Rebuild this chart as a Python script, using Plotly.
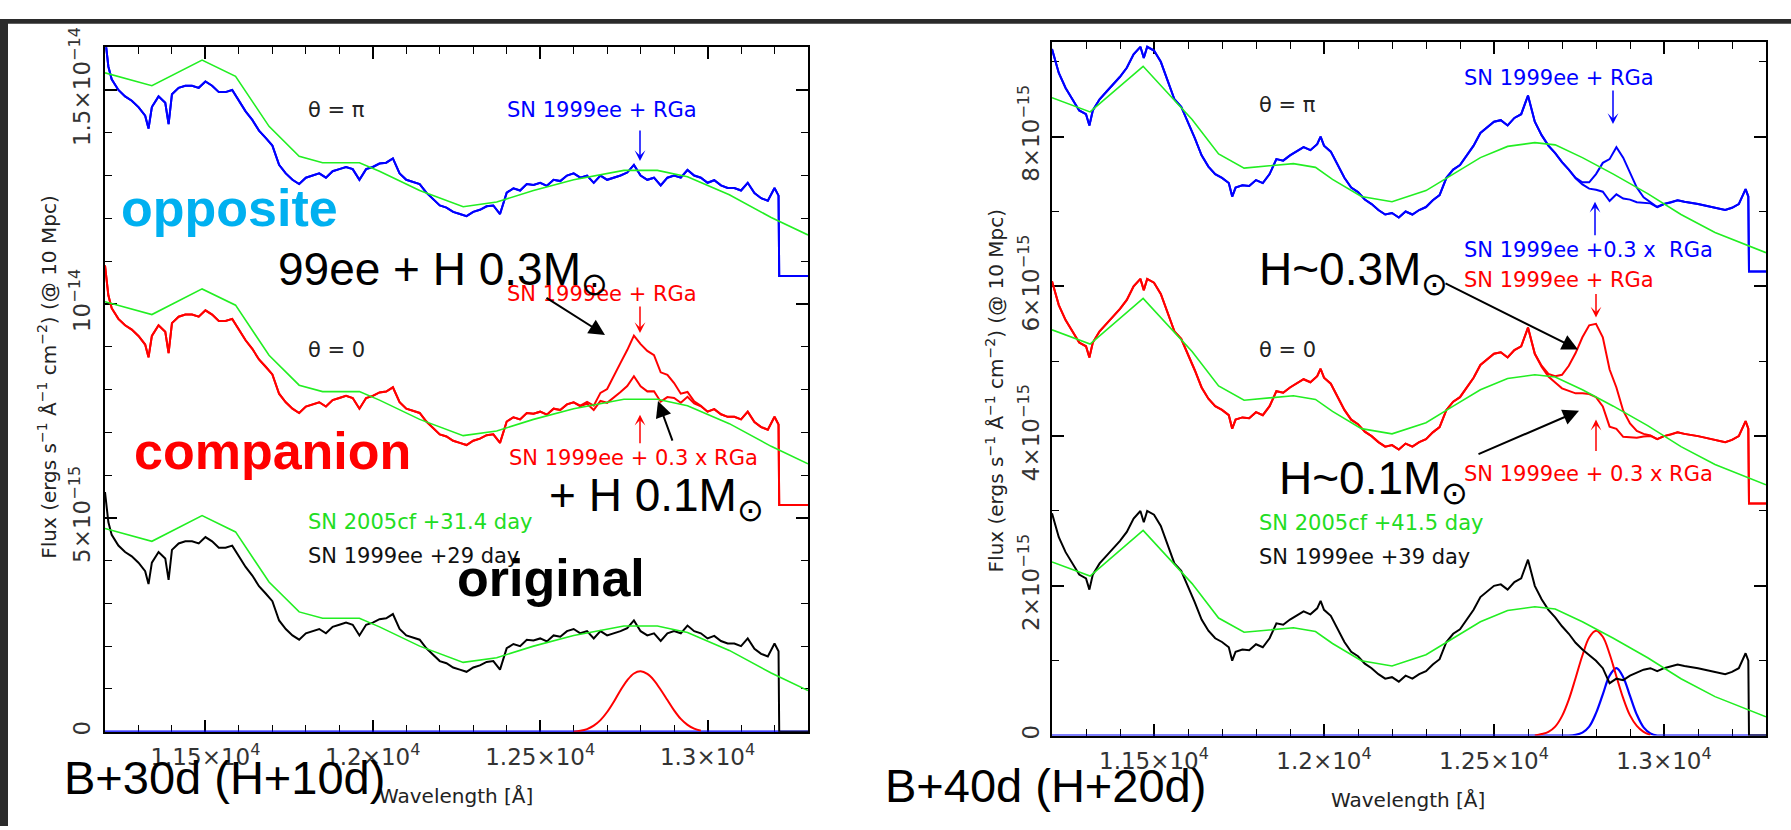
import plotly.graph_objects as go

W, H = 1791, 830

# ---------------- DATA (flux in units of 1e-15 erg s^-1 A^-1 cm^-2, wavelength in A) ----------------
# Left panel : B+30d (H+10d)  -- SN 1999ee +29 day
wl_L = [11200, 11210, 11220, 11240, 11260, 11280, 11300, 11320, 11330, 11340,
        11360, 11380, 11390, 11400, 11420, 11440, 11460, 11480, 11500, 11520,
        11540, 11560, 11580, 11600, 11620, 11640, 11660, 11680, 11700, 11720,
        11740, 11760, 11780, 11800, 11820, 11840, 11860, 11880, 11900, 11920,
        11940, 11960, 11980, 12000, 12020, 12040, 12060, 12080, 12100, 12120,
        12140, 12160, 12180, 12200, 12220, 12240, 12260, 12280, 12300, 12320,
        12340, 12360, 12380, 12400, 12420, 12440, 12460, 12480, 12500, 12520,
        12540, 12560, 12580, 12600, 12620, 12640, 12660, 12680, 12700, 12720,
        12740, 12760, 12780, 12800, 12820, 12840, 12860, 12880, 12900, 12920,
        12940, 12960, 12980, 13000, 13020, 13040, 13060, 13080, 13100, 13120,
        13140, 13160, 13180, 13200, 13212, 13214, 13300]
sn1999ee_L = [5.6, 4.9, 4.6, 4.35, 4.2, 4.1, 3.95, 3.75, 3.45, 3.95,
              4.2, 4.05, 3.55, 4.25, 4.4, 4.45, 4.45, 4.4, 4.55, 4.45,
              4.3, 4.3, 4.35, 4.1, 3.85, 3.65, 3.4, 3.23, 3.05, 2.6,
              2.4, 2.25, 2.15, 2.3, 2.35, 2.4, 2.3, 2.45, 2.5, 2.55,
              2.5, 2.25, 2.5, 2.55, 2.63, 2.65, 2.75, 2.4, 2.25, 2.2,
              2.15, 1.95, 1.8, 1.65, 1.6, 1.5, 1.45, 1.4, 1.5, 1.55,
              1.63, 1.65, 1.45, 1.95, 2.05, 2.0, 2.15, 2.13, 2.18, 2.11,
              2.25, 2.22, 2.35, 2.4, 2.3, 2.35, 2.18, 2.35, 2.25, 2.3,
              2.35, 2.42, 2.6, 2.35, 2.25, 2.3, 2.12, 2.3, 2.35, 2.3,
              2.48, 2.35, 2.3, 2.18, 2.24, 2.12, 2.06, 2.06, 2.0, 2.18,
              1.94, 1.82, 1.76, 2.06, 1.88, 0.0, 0.0]
rga_wl_L = [12600, 12620, 12640, 12660, 12680, 12700, 12720, 12740, 12760, 12780,
            12800, 12820, 12840, 12860, 12880, 12900, 12920, 12940, 12960, 12980]
rga_red_L = [0.0, 0.02, 0.06, 0.14, 0.27, 0.46, 0.7, 0.97, 1.2, 1.36,
             1.41, 1.35, 1.2, 0.98, 0.74, 0.5, 0.3, 0.16, 0.07, 0.02]
rga_blue_wl_L = []
rga_blue_L = []
tmpl_wl_L = [11200, 11340, 11490, 11590, 11690, 11780, 11850, 11960, 12020, 12140,
             12270, 12370, 12480, 12600, 12750, 12850, 12940, 13065, 13190, 13300]
sn2005cf_L = [4.75, 4.45, 5.05, 4.67, 3.5, 2.8, 2.65, 2.65, 2.45, 2.0,
              1.62, 1.73, 2.0, 2.25, 2.47, 2.47, 2.32, 1.9, 1.37, 0.96]
offset_blue_L = 10.65
offset_red_L = 5.3

# Right panel : B+40d (H+20d)  -- SN 1999ee +39 day
wl_R = [11200, 11220, 11240, 11260, 11280, 11300, 11310, 11320, 11340, 11360,
        11380, 11400, 11420, 11440, 11460, 11470, 11480, 11500, 11520, 11540,
        11560, 11580, 11600, 11620, 11640, 11660, 11680, 11700, 11720, 11730,
        11740, 11760, 11780, 11800, 11820, 11840, 11860, 11880, 11900, 11920,
        11940, 11960, 11980, 11990, 12000, 12020, 12040, 12060, 12080, 12100,
        12120, 12140, 12160, 12180, 12200, 12220, 12240, 12260, 12280, 12300,
        12320, 12340, 12360, 12380, 12400, 12420, 12440, 12460, 12480, 12500,
        12520, 12540, 12560, 12580, 12600, 12620, 12640, 12660, 12680, 12700,
        12720, 12740, 12760, 12780, 12800, 12820, 12840, 12860, 12880, 12900,
        12920, 12940, 12960, 12980, 13000, 13020, 13040, 13060, 13080, 13100,
        13120, 13140, 13160, 13180, 13200, 13220, 13240, 13248, 13250, 13300]
sn1999ee_R = [2.97, 2.65, 2.45, 2.3, 2.15, 2.1, 1.95, 2.15, 2.3, 2.4,
              2.5, 2.6, 2.72, 2.9, 3.0, 2.85, 3.0, 2.95, 2.8, 2.55,
              2.3, 2.2, 2.0, 1.78, 1.55, 1.4, 1.3, 1.25, 1.18, 1.0,
              1.12, 1.15, 1.14, 1.22, 1.18, 1.3, 1.5, 1.48, 1.55, 1.6,
              1.66, 1.62, 1.7, 1.8, 1.68, 1.6, 1.42, 1.25, 1.12, 1.06,
              0.96, 0.9, 0.82, 0.76, 0.78, 0.72, 0.8, 0.76, 0.82, 0.86,
              0.95, 1.02, 1.25, 1.36, 1.42, 1.55, 1.68, 1.85, 1.92, 2.0,
              2.02, 1.95, 2.05, 2.1, 2.35, 2.0, 1.82, 1.68, 1.58, 1.46,
              1.36, 1.24, 1.15, 1.07, 1.0, 0.9, 0.7, 0.76, 0.74, 0.8,
              0.84, 0.88, 0.9, 0.86, 0.9, 0.92, 0.95, 0.93, 0.92, 0.9,
              0.88, 0.86, 0.84, 0.82, 0.85, 0.9, 1.1, 1.0, 0.0, 0.0]
rga_wl_R = [12620, 12640, 12660, 12680, 12700, 12720, 12740, 12760, 12780, 12800,
            12820, 12840, 12860, 12880, 12900, 12920, 12940, 12960]
rga_red_R = [0.0, 0.02, 0.05, 0.12, 0.26, 0.48, 0.77, 1.07, 1.31, 1.40,
             1.32, 1.09, 0.79, 0.5, 0.27, 0.13, 0.05, 0.01]
rga_blue_wl_R = [12720, 12740, 12760, 12780, 12800, 12820, 12840, 12860, 12880, 12900,
                 12920, 12940, 12960, 12980]
rga_blue_R = [0.0, 0.01, 0.04, 0.12, 0.3, 0.55, 0.8, 0.9, 0.78, 0.53,
              0.28, 0.11, 0.03, 0.0]
tmpl_wl_R = [11200, 11312, 11468, 11612, 11690, 11765, 11910, 11975, 12025, 12110,
             12200, 12300, 12380, 12460, 12540, 12620, 12680, 12760, 12851, 12952,
             13050, 13150, 13300]
sn2005cf_R = [2.32, 2.13, 2.74, 2.03, 1.57, 1.38, 1.44, 1.39, 1.23, 1.0,
              0.93, 1.08, 1.3, 1.52, 1.67, 1.72, 1.69, 1.52, 1.3, 1.04,
              0.76, 0.52, 0.25]
offset_blue_R = 6.2
offset_red_R = 3.1

xtick_vals = [11500, 12000, 12500, 13000]
xtick_text = ['1.15×10<sup>4</sup>', '1.2×10<sup>4</sup>', '1.25×10<sup>4</sup>', '1.3×10<sup>4</sup>']
ytick_vals_L = [0, 5, 10, 15]
ytick_text_L = ['0', '5×10<sup>−15</sup>', '10<sup>−14</sup>', '1.5×10<sup>−14</sup>']
ytick_vals_R = [0, 2, 4, 6, 8]
ytick_text_R = ['0', '2×10<sup>−15</sup>', '4×10<sup>−15</sup>', '6×10<sup>−15</sup>', '8×10<sup>−15</sup>']

# ---------------- helpers ----------------
def lookup(wl, keys, vals):
    d = dict(zip(keys, vals))
    return [d.get(w, 0.0) for w in wl]

def shifted(base, add, scale, off):
    return [b + scale * a + off for b, a in zip(base, add)]

BLUE, RED, BLACK, GREEN = '#0000ff', '#ff0000', '#000000', '#22ee22'

fig = go.Figure()

def line(xa, ya, x, y, color, width=2.0, shape='linear'):
    fig.add_trace(go.Scatter(x=x, y=y, mode='lines', xaxis=xa, yaxis=ya,
                             line=dict(color=color, width=width, shape=shape),
                             showlegend=False, hoverinfo='skip'))

def panel(xa, ya, wl, flux, rga_wl, rga_red, rgab_wl, rgab, twl, tmpl, off_b, off_r):
    red_at = lookup(wl, rga_wl, rga_red)
    blue_at = lookup(wl, rgab_wl, rgab)
    line(xa, ya, wl, blue_at, BLUE, 2.2, 'spline')
    line(xa, ya, rga_wl, rga_red, RED, 2.0, 'spline')
    line(xa, ya, wl, flux, BLACK, 2.0)
    line(xa, ya, wl, shifted(flux, red_at, 0.3, off_r), RED, 2.0)
    line(xa, ya, wl, shifted(flux, red_at, 1.0, off_r), RED, 2.0)
    line(xa, ya, wl, shifted(flux, blue_at, 0.3, off_b), BLUE, 2.0)
    line(xa, ya, wl, shifted(flux, blue_at, 1.0, off_b), BLUE, 2.0)
    for off in (0.0, off_r, off_b):
        line(xa, ya, twl, [t + off for t in tmpl], GREEN, 1.6, 'linear')

panel('x', 'y', wl_L, sn1999ee_L, rga_wl_L, rga_red_L, rga_blue_wl_L, rga_blue_L,
      tmpl_wl_L, sn2005cf_L, offset_blue_L, offset_red_L)
panel('x2', 'y2', wl_R, sn1999ee_R, rga_wl_R, rga_red_R, rga_blue_wl_R, rga_blue_R,
      tmpl_wl_R, sn2005cf_R, offset_blue_R, offset_red_R)

# ---------------- layout ----------------
XTICKFONT = dict(family='DejaVu Sans', size=23, color='#333333')
YTICKFONT = dict(family='DejaVu Sans', size=23, color='#333333')

def xax(x0, x1, anchor):
    return dict(domain=[x0 / W, x1 / W], range=[11200, 13300], anchor=anchor,
                tickmode='array', tickvals=xtick_vals, ticktext=xtick_text,
                ticks='inside', ticklen=12, tickwidth=1.5, tickcolor='black',
                minor=dict(ticks='inside', ticklen=7, tickwidth=1.3, tickcolor='black',
                           tickmode='linear', tick0=11200, dtick=100),
                showline=True, linecolor='black', linewidth=1.5, mirror='ticks',
                showgrid=False, zeroline=False, layer='below traces',
                tickfont=XTICKFONT, ticklabelstandoff=4, fixedrange=True)

def yax(top, bot, rng, vals, text, dminor, anchor, standoff):
    return dict(domain=[1 - bot / H, 1 - top / H], range=rng, anchor=anchor,
                tickmode='array', tickvals=vals, ticktext=text, tickangle=-90,
                ticks='inside', ticklen=12, tickwidth=1.5, tickcolor='black',
                minor=dict(ticks='inside', ticklen=7, tickwidth=1.3, tickcolor='black',
                           tickmode='linear', tick0=0, dtick=dminor),
                showline=True, linecolor='black', linewidth=1.5, mirror='ticks',
                showgrid=False, zeroline=False, layer='below traces',
                tickfont=YTICKFONT, ticklabelstandoff=standoff, fixedrange=True)

def P(x, y):
    return dict(x=x / W, y=1 - y / H, xref='paper', yref='paper')

ann = []

def text(x, y, s, size=21, color='#222222', family='DejaVu Sans', xanchor='left', bold=False, angle=0):
    if bold:
        s = '<b>' + s + '</b>'
    d = P(x, y)
    d.update(text=s, showarrow=False, xanchor=xanchor, yanchor='middle', textangle=angle,
             font=dict(family=family, size=size, color=color))
    ann.append(d)

def big(x, baseline, s, size=46, color='black', bold=False, sub=False):
    yc = baseline - (0.25 if sub else 0.35) * size
    text(x, yc, s, size=size, color=color, family='Liberation Sans, Arial', bold=bold)

def arrow(tail, head, color, width, head_style, size):
    d = P(head[0], head[1])
    d.update(text='', showarrow=True, axref='pixel', ayref='pixel',
             ax=tail[0] - head[0], ay=tail[1] - head[1],
             arrowcolor=color, arrowwidth=width, arrowhead=head_style, arrowsize=size,
             standoff=0, startstandoff=0)
    ann.append(d)

SUN = 'M<sub>⊙</sub>'
YTITLE = 'Flux (ergs s<sup>−1</sup> Å<sup>−1</sup> cm<sup>−2</sup>) (@ 10 Mpc)'

# left panel small labels
text(306, 94, 'θ = π')
text(505, 94, 'SN 1999ee + RGa', color=BLUE)
text(505, 283, 'SN 1999ee + RGa', color=RED)
text(306, 340, 'θ = 0')
text(507, 452, 'SN 1999ee + 0.3 x RGa', color=RED)
text(306, 517, 'SN 2005cf +31.4 day', color='#22dd22')
text(306, 552, 'SN 1999ee +29 day', color='#111111')
text(456, 799, 'Wavelength [Å]', size=20, xanchor='center')
text(47, 368, YTITLE, size=20, xanchor='center', angle=-90)

# right panel small labels
text(1257, 88, 'θ = π')
text(1462, 61, 'SN 1999ee + RGa', color=BLUE)
text(1462, 238, 'SN 1999ee +0.3 x  RGa', color=BLUE)
text(1462, 268, 'SN 1999ee + RGa', color=RED)
text(1257, 340, 'θ = 0')
text(1462, 468, 'SN 1999ee + 0.3 x RGa', color=RED)
text(1257, 518, 'SN 2005cf +41.5 day', color='#22dd22')
text(1257, 553, 'SN 1999ee +39 day', color='#111111')
text(1408, 803, 'Wavelength [Å]', size=20, xanchor='center')
text(995, 382, YTITLE, size=20, xanchor='center', angle=-90)

# big presentation labels
big(119, 213, 'opposite', 52, '#00b0f0', bold=True)
big(132, 463, 'companion', 52, '#ff0000', bold=True)
big(455, 593, 'original', 52, 'black', bold=True)
big(276, 272, '99ee + H 0.3' + SUN, 46, sub=True)
big(547, 505, '+ H 0.1' + SUN, 46, sub=True)
big(1257, 272, 'H~0.3' + SUN, 46, sub=True)
big(1277, 487, 'H~0.1' + SUN, 46, sub=True)
big(62, 797, 'B+30d (H+10d)', 47)
big(883, 805, 'B+40d (H+20d)', 47)

# small coloured arrows
arrow((640, 114), (640, 146), BLUE, 1.5, 3, 1.2)
arrow((640, 295), (640, 323), RED, 1.5, 3, 1.2)
arrow((640, 437), (640, 407), RED, 1.5, 3, 1.2)
arrow((1613, 73), (1613, 108), BLUE, 1.5, 3, 1.2)
arrow((1595, 223), (1595, 188), BLUE, 1.5, 3, 1.2)
arrow((1596, 282), (1596, 307), RED, 1.5, 3, 1.2)
arrow((1596, 445), (1596, 412), RED, 1.5, 3, 1.2)

# black pointer arrows
arrow((545, 287), (605, 325), 'black', 2, 2, 1.6)
arrow((673, 434), (658, 393), 'black', 2, 2, 1.6)
arrow((1444, 273), (1578, 340), 'black', 2, 2, 1.6)
arrow((1477, 447), (1579, 403), 'black', 2, 2, 1.6)

shapes = [
    dict(type='rect', xref='paper', yref='paper', x0=0, x1=1, y0=1 - 5 / H, y1=1,
         fillcolor='#2b2b2b', line=dict(width=0), layer='above'),
    dict(type='rect', xref='paper', yref='paper', x0=0, x1=8 / W, y0=0, y1=1,
         fillcolor='#2b2b2b', line=dict(width=0), layer='above'),
]

fig.update_layout(
    width=W, height=H, autosize=False,
    margin=dict(l=0, r=0, t=0, b=0),
    paper_bgcolor='white', plot_bgcolor='white',
    showlegend=False,
    xaxis=xax(105, 808, 'y'),
    yaxis=yax(29, 733, [0, 16.0], ytick_vals_L, ytick_text_L, 1, 'x', 4),
    xaxis2=xax(1052, 1766, 'y2'),
    yaxis2=yax(24, 737, [0, 9.26], ytick_vals_R, ytick_text_R, 1, 'x2', 2),
    annotations=ann,
    shapes=shapes,
)

fig.write_html('out.html')
